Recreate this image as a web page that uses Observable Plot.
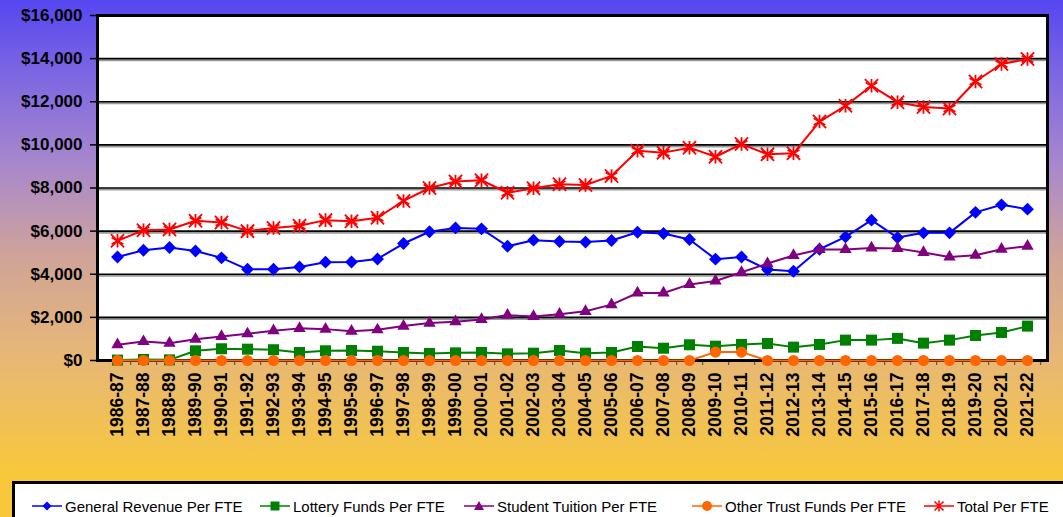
<!DOCTYPE html>
<html><head><meta charset="utf-8">
<script src="https://cdn.jsdelivr.net/npm/d3@7"></script>
<script src="https://cdn.jsdelivr.net/npm/@observablehq/plot@0.6"></script>
<style>
html,body{margin:0;padding:0;}
body{width:1063px;height:517px;overflow:hidden;position:relative;
 background:linear-gradient(to bottom,#5646F0 0%,#7C66E2 14%,#A888CC 32%,#D0A498 50%,#E8B874 70%,#F8C83A 92%);
 font-family:Arial,"Liberation Sans",sans-serif;}
#chart{position:absolute;left:0;top:0;}
#legend{position:absolute;left:12px;top:481px;width:1100px;height:70px;background:#fff;border:3px solid #000;box-sizing:border-box;}
.item{position:absolute;top:12px;height:20px;display:flex;align-items:center;font-size:15px;color:#000;white-space:nowrap;}
.item svg{margin-right:3px;}
</style>
</head><body>
<div id="chart"></div>
<div id="legend"></div>
<script>
const years = ["1986-87","1987-88","1988-89","1989-90","1990-91","1991-92","1992-93","1993-94","1994-95","1995-96","1996-97","1997-98","1998-99","1999-00","2000-01","2001-02","2002-03","2003-04","2004-05","2005-06","2006-07","2007-08","2008-09","2009-10","2010-11","2011-12","2012-13","2013-14","2014-15","2015-16","2016-17","2017-18","2018-19","2019-20","2020-21","2021-22"];
const generalRevenue = [4800,5115,5240,5080,4760,4230,4230,4340,4560,4570,4710,5425,5970,6150,6105,5300,5580,5520,5490,5565,5950,5890,5610,4700,4800,4220,4140,5160,5735,6510,5700,5920,5920,6870,7220,7020];
const lotteryFunds = [20,50,30,450,545,525,500,370,450,465,430,370,325,355,370,310,340,465,340,370,650,570,730,665,745,790,620,745,945,945,1025,805,945,1160,1300,1595];
const studentTuition = [730,880,805,990,1115,1240,1380,1490,1455,1360,1425,1595,1735,1800,1905,2105,2045,2150,2280,2590,3130,3130,3530,3690,4090,4495,4870,5150,5150,5220,5200,5010,4800,4880,5160,5300];
const otherTrustFunds = [0,0,0,0,0,0,0,0,0,0,0,0,0,0,0,0,0,0,0,0,0,0,0,390,390,0,0,0,0,0,0,0,0,0,0,0];
const totalPerFTE = [5550,6045,6077,6480,6400,6000,6150,6250,6510,6460,6620,7400,8000,8300,8360,7780,7985,8170,8140,8560,9730,9640,9870,9450,10040,9560,9610,11080,11810,12740,11980,11760,11690,12940,13750,13980];
const yTicks = [0,2000,4000,6000,8000,10000,12000,14000,16000];

const seriesNames = ["General Revenue Per FTE","Lottery Funds Per FTE","Student Tuition Per FTE","Other Trust Funds Per FTE","Total Per FTE"];
const seriesValues = [generalRevenue,lotteryFunds,studentTuition,otherTrustFunds,totalPerFTE];
const seriesColors = ["#0000FF","#008000","#800080","#FF6600","#FF0000"];
const seriesSymbols = ["diamond2","square2","triangle2","circle","asterisk"];
const seriesR = [5.8,7,5.9,5.6,6.4];

const W = 1063, H = 483, mL = 97, mR = 16, mT = 15, mB = 123;
const step = (W - mL - mR) / years.length;

const marks = [
  Plot.frame({fill:"white", stroke:null}),
  Plot.ruleY(yTicks.slice(1,-1), {y:d=>d, stroke:"#9a9a9a", strokeWidth:2, dy:1.5}),
  Plot.ruleY(yTicks.slice(1,-1), {y:d=>d, stroke:"#000", strokeWidth:1.6}),
  Plot.axisY({ticks:yTicks, tickFormat:d3.format("$,"), tickSize:7, tickPadding:8, fontSize:17, fontWeight:"bold", strokeWidth:1.5}),
  Plot.axisX({tickSize:5, tickFormat:()=>"", dx:step/2, strokeWidth:1, stroke:"#444"}),
  Plot.axisX({tickSize:0, tickRotate:-90, tickPadding:12, fontSize:17.5, fontWeight:"bold"}),
  Plot.frame({stroke:"#000", strokeWidth:3}),
];
seriesNames.forEach((name,i)=>{
  const rows = years.map((y,j)=>({year:y, value:seriesValues[i][j]}));
  marks.push(Plot.line(rows,{x:"year", y:"value", stroke:seriesColors[i], strokeWidth:2}));
  if (seriesSymbols[i]==="asterisk") {
    marks.push(Plot.dot(rows,{x:"year", y:"value", symbol:"asterisk", r:seriesR[i], stroke:seriesColors[i], strokeWidth:1.8}));
    marks.push(Plot.dot(rows,{x:"year", y:"value", symbol:"times", r:seriesR[i]*0.95, stroke:seriesColors[i], strokeWidth:1.8}));
  } else {
    marks.push(Plot.dot(rows,{x:"year", y:"value", symbol:seriesSymbols[i], r:seriesR[i], fill:seriesColors[i], stroke:"none"}));
  }
});

const chart = Plot.plot({
  width:W, height:H, marginLeft:mL, marginRight:mR, marginTop:mT, marginBottom:mB,
  style:{background:"transparent", fontFamily:"Arial, 'Liberation Sans', sans-serif", color:"#000", fontWeight:"bold", overflow:"visible"},
  x:{type:"point", domain:years, padding:0.5, label:null},
  y:{domain:[0,16000], label:null},
  marks
});
document.getElementById("chart").appendChild(chart);

// legend
const legendX = [17,245,449,677,909];
const legend = document.getElementById("legend");
seriesNames.forEach((name,i)=>{
  const d = document.createElement("div");
  d.className = "item";
  d.style.left = legendX[i] + "px";
  const sym = {diamond2:"M15,2.5 L19.5,7 L15,11.5 L10.5,7 Z", square2:"M10.5,2.5 H19.5 V11.5 H10.5 Z", triangle2:"M15,2 L20,11 H10 Z"};
  let marker = "";
  if (sym[seriesSymbols[i]]) marker = `<path d="${sym[seriesSymbols[i]]}" fill="${seriesColors[i]}"/>`;
  else if (seriesSymbols[i]==="circle") marker = `<circle cx="15" cy="7" r="5" fill="${seriesColors[i]}"/>`;
  else marker = `<path d="M15,1.5V12.5M10.5,2.5L19.5,11.5M19.5,2.5L10.5,11.5" stroke="${seriesColors[i]}" stroke-width="1.5"/>`;
  d.innerHTML = `<svg width="30" height="14"><line x1="0" x2="30" y1="7" y2="7" stroke="${seriesColors[i]}" stroke-width="1.5"/>${marker}</svg><span>${name}</span>`;
  legend.appendChild(d);
});
</script>
</body></html>
